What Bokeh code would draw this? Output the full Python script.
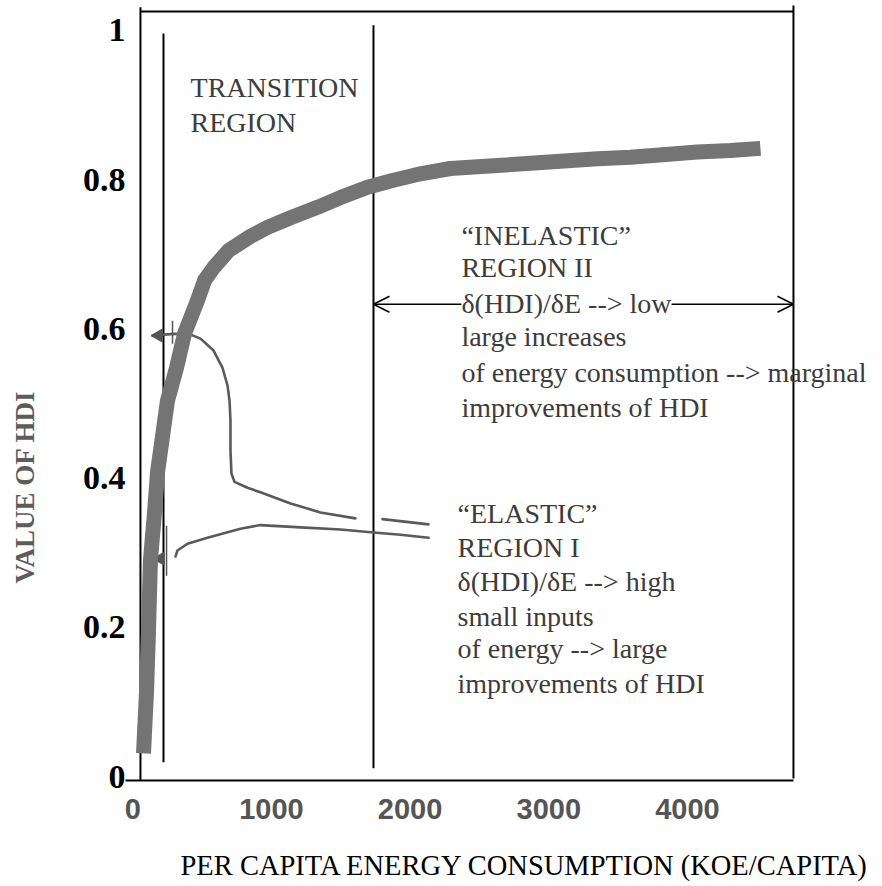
import math
from bokeh.plotting import figure
from bokeh.models import (Range1d, FixedTicker, Label, Arrow, OpenHead,
                          CustomJSTickFormatter, Title)
from bokeh.embed import file_html
from bokeh.resources import INLINE

# ---------------- data ----------------
# thick curve: HDI versus per-capita energy consumption (kgoe/capita)
energy_main = [78, 100, 114, 128, 157, 179, 251, 316, 374, 467, 518, 583, 691, 849,
               972, 1138, 1332, 1498, 1693, 1873, 2053, 2291, 2630, 2868, 3351,
               3589, 4072, 4310, 4526]
hdi_main = [0.031, 0.115, 0.196, 0.290, 0.353, 0.408, 0.504, 0.548, 0.594, 0.638,
            0.665, 0.682, 0.705, 0.724, 0.736, 0.749, 0.763, 0.776, 0.790, 0.799,
            0.807, 0.815, 0.819, 0.822, 0.828, 0.830, 0.837, 0.839, 0.842]

# thin hand-drawn upper curve
energy_upper = [143, 273, 395, 489, 583, 647, 684, 698, 705, 705, 712, 734, 828,
                921, 1138, 1354, 1606]
hdi_upper = [0.591, 0.593, 0.594, 0.587, 0.571, 0.548, 0.524, 0.504, 0.477, 0.437,
             0.406, 0.395, 0.387, 0.381, 0.366, 0.354, 0.346]
energy_upper_dash = [1801, 2133]
hdi_upper_dash = [0.345, 0.338]

# thin hand-drawn lower curve
energy_lower = [309, 323, 395, 539, 777, 921, 1210, 1498, 1736, 1931, 2133]
hdi_lower = [0.295, 0.303, 0.312, 0.320, 0.332, 0.337, 0.334, 0.331, 0.327, 0.324, 0.320]

# hand-drawn marks at the start of the thin curves
mark_energy = [186, 200]
mark_hdi = [0.591, 0.292]
tick_energy = [287, 244]
tick_hdi_low = [0.580, 0.269]
tick_hdi_high = [0.611, 0.336]

# region boundaries (energy) and their vertical extent
region_energy = [222, 1736]
region_hdi_low = [0.019, 0.011]
region_hdi_high = [0.996, 1.007]

# double arrow of region II
arrow_energy = [1736, 4764]
arrow_hdi = 0.633

x_ticks = [0, 1000, 2000, 3000, 4000]
y_ticks = [0, 0.2, 0.4, 0.6, 0.8, 1]

# box drawn around the chart
box_left, box_right, box_top = 56, 4764, 1.0255

transition_lines = ["TRANSITION", "REGION"]
transition_y = [0.923, 0.877]
inelastic_lines = ["\u201cINELASTIC\u201d", "REGION II", "\u03b4(HDI)/\u03b4E --> low",
                   "large increases", "of energy consumption --> marginal",
                   "improvements of HDI"]
inelastic_y = [0.725, 0.682, 0.634, 0.590, 0.541, 0.494]
elastic_lines = ["\u201cELASTIC\u201d", "REGION I", "\u03b4(HDI)/\u03b4E --> high",
                 "small inputs", "of energy --> large", "improvements of HDI"]
elastic_y = [0.352, 0.307, 0.262, 0.215, 0.171, 0.124]

x_title = "PER CAPITA ENERGY CONSUMPTION (KOE/CAPITA)"
y_title = "VALUE OF HDI"

# ---------------- figure ----------------
W, H = 882, 886
p = figure(width=W, height=H,
           x_range=Range1d(-51.9, 5406), y_range=Range1d(-0.00536, 1.0402),
           output_backend="svg", toolbar_location=None,
           min_border_left=125, min_border_right=0,
           min_border_top=0, min_border_bottom=106)
p.outline_line_color = None
p.xgrid.visible = False
p.ygrid.visible = False
p.background_fill_color = "white"

# x axis
xa = p.xaxis[0]
xa.ticker = FixedTicker(ticks=x_ticks)
xa.bounds = (-51.9, box_right)
xa.axis_line_color = "black"
xa.axis_line_width = 2
xa.major_tick_in = 0
xa.major_tick_out = 0
xa.minor_tick_in = 0
xa.minor_tick_out = 0
xa.minor_tick_line_color = None
xa.major_label_standoff = 18
xa.major_label_text_font = "Liberation Sans"
xa.major_label_text_font_style = "bold"
xa.major_label_text_font_size = "29px"
xa.major_label_text_color = "#555555"
xa.axis_label = " "
xa.axis_label_text_font_size = "10px"
xa.axis_label_standoff = 12

# y axis
ya = p.yaxis[0]
ya.ticker = FixedTicker(ticks=y_ticks)
ya.formatter = CustomJSTickFormatter(code="return String(tick);")
ya.axis_line_color = None
ya.major_tick_in = 0
ya.major_tick_out = 0
ya.minor_tick_in = 0
ya.minor_tick_out = 0
ya.major_tick_line_color = None
ya.minor_tick_line_color = None
ya.major_label_standoff = 0
ya.major_label_text_font = "Liberation Serif"
ya.major_label_text_font_style = "bold"
ya.major_label_text_font_size = "34px"
ya.major_label_text_color = "black"
ya.axis_label = " "
ya.axis_label_text_font_size = "10px"
ya.axis_label_standoff = 26

# axis titles as side titles
p.add_layout(Title(text=x_title, align="left", offset=55, standoff=0,
                   vertical_align="bottom", text_font="Liberation Serif",
                   text_font_style="normal", text_font_size="28.5px",
                   text_color="black"), "below")
p.add_layout(Title(text=y_title, align="left", offset=197, standoff=0,
                   vertical_align="bottom", text_font="Liberation Serif",
                   text_font_style="bold", text_font_size="27px",
                   text_color="#5c5c5c"), "left")

# box lines
p.segment(x0=[box_left, box_right, box_left], y0=[-0.0054, -0.0027, box_top],
          x1=[box_left, box_right, box_right], y1=[1.031, 1.0335, box_top],
          line_color="black", line_width=2)

# region boundaries
p.segment(x0=region_energy, y0=region_hdi_low, x1=region_energy, y1=region_hdi_high,
          line_color="black", line_width=2)

# thin curves
thin = dict(line_color="#5a5a5a", line_width=2.6, line_join="round", line_cap="round")
p.line(energy_upper, hdi_upper, **thin)
p.line(energy_upper_dash, hdi_upper_dash, **thin)
p.line(energy_lower, hdi_lower, **thin)
p.scatter(mark_energy, mark_hdi, marker="triangle", size=13, angle=math.pi / 2,
          fill_color="#555555", line_color="#555555")
p.segment(x0=tick_energy, y0=tick_hdi_low, x1=tick_energy, y1=tick_hdi_high,
          line_color="#555555", line_width=1.5)

# main thick curve
p.line(energy_main, hdi_main, line_color="#747474", line_width=15,
       line_join="round", line_cap="butt")

# double arrow
p.add_layout(Arrow(start=OpenHead(size=16, line_width=1.5, line_color="black"),
                   end=OpenHead(size=16, line_width=1.5, line_color="black"),
                   x_start=arrow_energy[0], y_start=arrow_hdi,
                   x_end=arrow_energy[1], y_end=arrow_hdi,
                   line_width=1.5, line_color="black"))

txt = dict(text_font="Liberation Serif", text_font_size="28px", text_color="#3c3c3c",
           text_baseline="alphabetic", text_align="left")
for t, yy in zip(transition_lines, transition_y):
    p.add_layout(Label(x=417, y=yy, text=t, **txt))
for i, (t, yy) in enumerate(zip(inelastic_lines, inelastic_y)):
    extra = dict(background_fill_color="white") if i == 2 else {}
    p.add_layout(Label(x=2370, y=yy, text=t, **txt, **extra))
for t, yy in zip(elastic_lines, elastic_y):
    p.add_layout(Label(x=2342, y=yy, text=t, **txt))

open("out.html", "w").write(file_html(p, INLINE))
